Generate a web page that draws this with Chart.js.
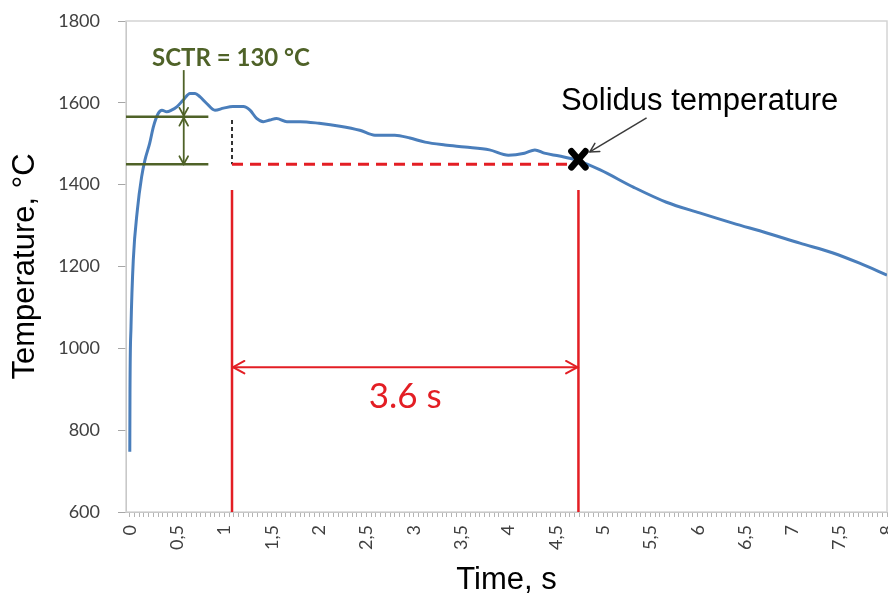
<!DOCTYPE html>
<html>
<head>
<meta charset="utf-8">
<script src="https://cdn.jsdelivr.net/npm/chart.js@4.4.0/dist/chart.umd.min.js"></script>
<style>
    html, body { margin: 0; padding: 0; background: #fff; }
    #wrap { width: 888px; height: 596px; }
</style>
</head>
<body>
<div id="wrap"><canvas id="coolingChart"></canvas></div>
<script>
// =====================  cooling curve data  =======================================
var timeValues = [0, 0.002, 0.013, 0.037, 0.08, 0.125, 0.16, 0.21, 0.25, 0.30,
    0.34, 0.39, 0.44, 0.50, 0.565, 0.636, 0.69, 0.74, 0.81, 0.90,
    0.99, 1.09, 1.20, 1.27, 1.34, 1.41, 1.48, 1.55, 1.66, 1.80,
    2.0, 2.22, 2.43, 2.59, 2.8, 2.96, 3.12, 3.33, 3.54, 3.8,
    4.0, 4.17, 4.28, 4.38, 4.54, 4.72, 4.97, 5.32, 5.67, 6.02,
    6.37, 6.73, 7.08, 7.43, 7.71, 8.0];
var tempValues = [747, 890, 1053, 1216, 1338, 1419, 1460, 1501, 1542, 1574,
    1582, 1578, 1582, 1591, 1607, 1623, 1623, 1615, 1599, 1582,
    1587, 1591, 1591, 1582, 1562, 1554, 1558, 1562, 1554, 1554,
    1550, 1543, 1533, 1521, 1521, 1514, 1504, 1497, 1492, 1485,
    1472, 1477, 1485, 1477, 1470, 1460, 1436, 1394, 1357, 1331,
    1306, 1282, 1257, 1233, 1208, 1179];

var yTicks = [600, 800, 1000, 1200, 1400, 1600, 1800];
var xTickLabels = ['0', '0,5', '1', '1,5', '2', '2,5', '3', '3,5', '4',
    '4,5', '5', '5,5', '6', '6,5', '7', '7,5', '8'];

// annotation anchors, in data units (time s / temperature C)
var sctrLevels = [1566, 1450];
var sctrLineEnd = 0.83;
var sctrArrowTime = 0.57;
var sctrArrowTop = 1680;
var sctrLabel = 'SCTR = 130 °C';
var sctrLabelPos = [0.235, 1690];
var startTime = 1.08;
var solidusTime = 4.74;
var solidusTemp = 1462;
var dashLevel = 1450;
var dashTop = 1558;
var redLineTop = 1387;
var spanArrowTemp = 954;
var spanLabel = '3.6 s';
var spanLabelTemp = 853;
var solidusLabel = 'Solidus temperature';
var solidusLabelPos = [6.02, 1582];
var solidusArrow = [[5.46, 1563], [4.86, 1480]];

var points = timeValues.map(function (t, i) {
    return { x: t, y: tempValues[i] };
});

var olive = '#4f6228';
var red = '#e31e24';

function drawLine(ctx, x1, y1, x2, y2, color, width, dash) {
    ctx.save();
    ctx.strokeStyle = color;
    ctx.lineWidth = width;
    ctx.setLineDash(dash || []);
    ctx.beginPath();
    ctx.moveTo(x1, y1);
    ctx.lineTo(x2, y2);
    ctx.stroke();
    ctx.restore();
}

// open "V" arrow head, tip at x,y pointing along angle
function arrowHead(ctx, x, y, angle, len, color, width) {
    var a1 = angle + Math.PI - 0.5, a2 = angle + Math.PI + 0.5;
    ctx.save();
    ctx.strokeStyle = color;
    ctx.lineWidth = width;
    ctx.lineCap = 'round';
    ctx.beginPath();
    ctx.moveTo(x + Math.cos(a1) * len, y + Math.sin(a1) * len);
    ctx.lineTo(x, y);
    ctx.lineTo(x + Math.cos(a2) * len, y + Math.sin(a2) * len);
    ctx.stroke();
    ctx.restore();
}

var plotBox = {
    id: 'plotBox',
    beforeDatasetsDraw: function (chart) {
        var a = chart.chartArea, ctx = chart.ctx;
        ctx.save();
        ctx.strokeStyle = '#d4d4d4';
        ctx.lineWidth = 1.5;
        ctx.strokeRect(a.left, a.top, a.right - a.left, a.bottom - a.top);
        ctx.restore();
    }
};

var annotations = {
    id: 'annotations',
    afterDatasetsDraw: function (chart) {
        var ctx = chart.ctx;
        var xs = chart.scales.x, ys = chart.scales.y;
        var X = function (v) { return xs.getPixelForValue(v); };
        var Y = function (v) { return ys.getPixelForValue(v); };
        var left = chart.chartArea.left;

        // SCTR range
        sctrLevels.forEach(function (lv) {
            drawLine(ctx, left, Y(lv), X(sctrLineEnd), Y(lv), olive, 2.5);
        });
        var ax = X(sctrArrowTime);
        drawLine(ctx, ax, Y(sctrArrowTop), ax, Y(sctrLevels[1]), olive, 1.8);
        arrowHead(ctx, ax, Y(sctrLevels[0]) - 1, Math.PI / 2, 9, olive, 1.8);
        arrowHead(ctx, ax, Y(sctrLevels[0]) + 1, -Math.PI / 2, 9, olive, 1.8);
        arrowHead(ctx, ax, Y(sctrLevels[1]), Math.PI / 2, 9, olive, 1.8);

        ctx.save();
        ctx.font = 'bold 24px Lato';
        ctx.fillStyle = olive;
        ctx.textAlign = 'left';
        ctx.textBaseline = 'alphabetic';
        ctx.fillText(sctrLabel, X(sctrLabelPos[0]), Y(sctrLabelPos[1]));
        ctx.restore();

        // liquid span
        drawLine(ctx, X(startTime), Y(dashTop), X(startTime), Y(dashLevel), '#333', 2, [4, 3]);
        drawLine(ctx, X(startTime), Y(dashLevel), X(solidusTime) - 6, Y(dashLevel), red, 3, [11, 7]);
        var bottom = chart.chartArea.bottom;
        drawLine(ctx, X(startTime), Y(redLineTop), X(startTime), bottom, red, 2.5);
        drawLine(ctx, X(solidusTime), Y(redLineTop), X(solidusTime), bottom, red, 2.5);
        var sy = Y(spanArrowTemp);
        drawLine(ctx, X(startTime), sy, X(solidusTime), sy, red, 2);
        arrowHead(ctx, X(startTime) + 1, sy, Math.PI, 13, red, 2);
        arrowHead(ctx, X(solidusTime) - 1, sy, 0, 13, red, 2);

        ctx.save();
        ctx.font = '35px Lato';
        ctx.fillStyle = red;
        ctx.textAlign = 'center';
        ctx.textBaseline = 'alphabetic';
        ctx.fillText(spanLabel, (X(startTime) + X(solidusTime)) / 2 + 0, Y(spanLabelTemp));
        ctx.restore();

        // solidus marker + label
        var p1 = [X(solidusArrow[0][0]), Y(solidusArrow[0][1])];
        var p2 = [X(solidusArrow[1][0]), Y(solidusArrow[1][1])];
        drawLine(ctx, p1[0], p1[1], p2[0], p2[1], '#3a3a3a', 1.5);
        arrowHead(ctx, p2[0], p2[1], Math.atan2(p2[1] - p1[1], p2[0] - p1[0]), 10, '#3a3a3a', 1.5);

        var mx = X(solidusTime), my = Y(solidusTemp);
        ctx.save();
        ctx.strokeStyle = '#000';
        ctx.lineWidth = 6.5;
        ctx.lineCap = 'round';
        ctx.beginPath();
        ctx.moveTo(mx - 7, my - 8); ctx.lineTo(mx + 7, my + 8);
        ctx.moveTo(mx + 7, my - 8); ctx.lineTo(mx - 7, my + 8);
        ctx.stroke();
        ctx.restore();

        ctx.save();
        ctx.font = '31px "Liberation Sans"';
        ctx.fillStyle = '#000';
        ctx.textAlign = 'center';
        ctx.textBaseline = 'alphabetic';
        ctx.fillText(solidusLabel, X(solidusLabelPos[0]), Y(solidusLabelPos[1]));
        ctx.restore();
    }
};

new Chart(document.getElementById('coolingChart'), {
    type: 'line',
    data: {
        datasets: [{
            label: 'Temperature',
            data: points,
            borderColor: '#4a7ebb',
            borderWidth: 3,
            pointRadius: 0,
            cubicInterpolationMode: 'monotone',
            fill: false
        }]
    },
    options: {
        responsive: true,
        maintainAspectRatio: false,
        animation: false,
        layout: { padding: { top: 21, right: 1, left: 0, bottom: 0 } },
        plugins: {
            legend: { display: false },
            tooltip: { enabled: false }
        },
        scales: {
            x: {
                type: 'linear',
                min: -0.04,
                max: 8,
                afterBuildTicks: function (s) {
                    var t = [];
                    for (var i = 0; i <= 160; i++) t.push({ value: i * 0.05 });
                    s.ticks = t;
                },
                afterFit: function (s) {
                    s.height = 84;
                    s.paddingLeft = 0;
                    s.paddingRight = 0;
                },
                ticks: {
                    autoSkip: false,
                    minRotation: 90,
                    maxRotation: 90,
                    padding: 8,
                    color: '#404040',
                    font: { family: 'Lato', size: 18 },
                    callback: function (v, i) {
                        return i % 10 === 0 ? xTickLabels[i / 10] : '';
                    }
                },
                grid: {
                    drawOnChartArea: false,
                    tickLength: 5,
                    color: '#b4b4b4'
                },
                border: { color: '#a6a6a6', width: 1 },
                title: {
                    display: true,
                    text: 'Time, s',
                    color: '#000',
                    padding: 0,
                    font: { family: 'Liberation Sans', size: 31, lineHeight: 1 }
                }
            },
            y: {
                min: yTicks[0],
                max: yTicks[yTicks.length - 1],
                afterBuildTicks: function (s) {
                    s.ticks = yTicks.map(function (v) { return { value: v }; });
                },
                afterFit: function (s) {
                    s.width = 126;
                    s.paddingTop = 0;
                    s.paddingBottom = 0;
                },
                ticks: {
                    padding: 18,
                    color: '#404040',
                    font: { family: 'Lato', size: 18 },
                    callback: function (v) {
                        return String(v);
                    }
                },
                grid: {
                    drawOnChartArea: false,
                    tickLength: 8,
                    color: '#a6a6a6'
                },
                border: { color: '#a6a6a6', width: 1 },
                title: {
                    display: true,
                    text: 'Temperature, °C',
                    color: '#000',
                    padding: { top: 10, bottom: 0 },
                    font: { family: 'Liberation Sans', size: 31, lineHeight: 1 }
                }
            }
        }
    },
    plugins: [plotBox, annotations]
});
</script>
</body>
</html>
